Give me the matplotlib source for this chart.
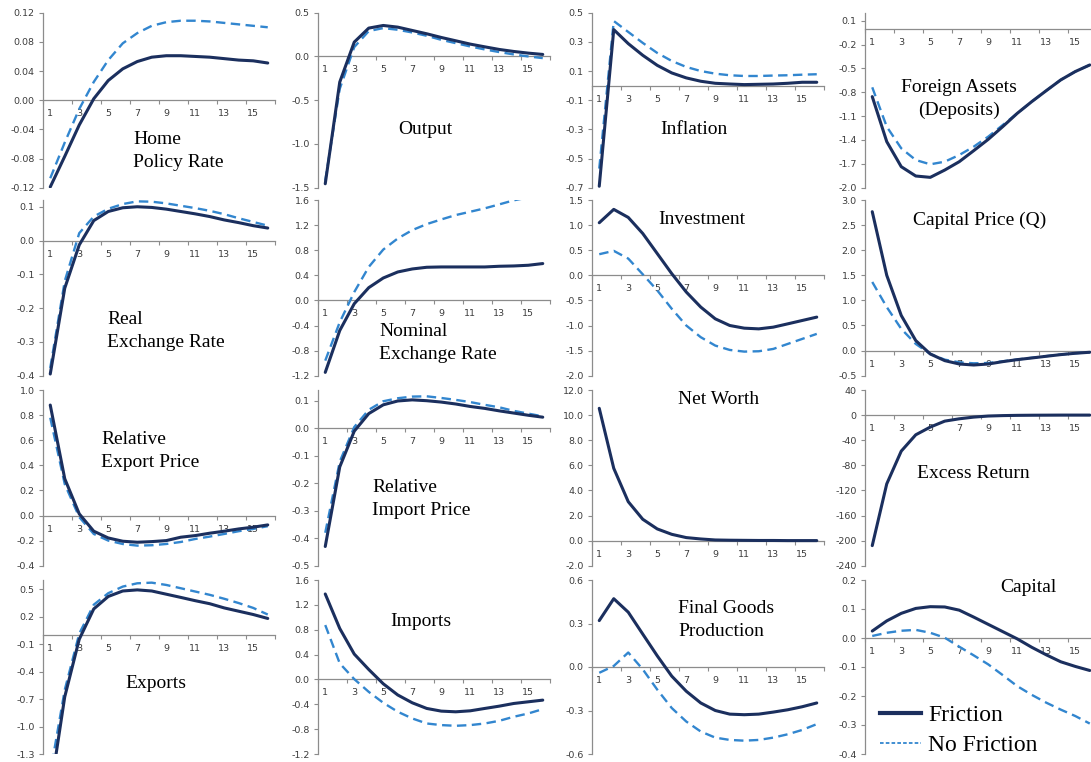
import matplotlib
matplotlib.use("Agg")
import matplotlib.pyplot as plt
from matplotlib.lines import Line2D
from matplotlib.ticker import FixedLocator, FormatStrFormatter

# ---------------------------------------------------------------- data
horizon = list(range(1, 17))
horizon_labels = [str(h) for h in range(1, 17, 2)]

policy_rate_fric = [-0.119, -0.077, -0.034, 0.002, 0.027, 0.043, 0.053, 0.059,
                    0.061, 0.061, 0.060, 0.059, 0.057, 0.055, 0.054, 0.051]
policy_rate_nofric = [-0.107, -0.058, -0.012, 0.025, 0.055, 0.078, 0.092, 0.102,
                      0.107, 0.109, 0.109, 0.108, 0.106, 0.104, 0.102, 0.100]

real_exch_fric = [-0.395, -0.141, -0.013, 0.059, 0.086, 0.097, 0.100, 0.098,
                  0.093, 0.086, 0.079, 0.071, 0.061, 0.053, 0.044, 0.037]
real_exch_nofric = [-0.377, -0.120, 0.022, 0.071, 0.094, 0.108, 0.116, 0.115,
                    0.110, 0.103, 0.096, 0.088, 0.078, 0.066, 0.055, 0.044]

export_price_fric = [0.880, 0.293, 0.013, -0.125, -0.179, -0.205, -0.213, -0.208,
                     -0.200, -0.173, -0.160, -0.141, -0.125, -0.107, -0.093, -0.075]
export_price_nofric = [0.779, 0.250, -0.013, -0.147, -0.200, -0.227, -0.240, -0.237,
                       -0.227, -0.211, -0.187, -0.168, -0.147, -0.125, -0.107, -0.085]

exports_fric = [-1.72, -0.675, -0.047, 0.284, 0.420, 0.480, 0.492, 0.480,
                0.445, 0.410, 0.374, 0.341, 0.295, 0.259, 0.223, 0.180]
exports_nofric = [-1.51, -0.600, 0.014, 0.330, 0.456, 0.528, 0.564, 0.571,
                  0.546, 0.510, 0.474, 0.438, 0.395, 0.348, 0.295, 0.223]

output_fric = [-1.455, -0.293, 0.164, 0.324, 0.354, 0.335, 0.297, 0.259,
               0.217, 0.179, 0.141, 0.110, 0.080, 0.057, 0.038, 0.023]
output_nofric = [-1.420, -0.370, 0.107, 0.290, 0.324, 0.305, 0.274, 0.236,
                 0.190, 0.152, 0.114, 0.080, 0.050, 0.023, 0.000, -0.019]

nominal_exch_fric = [-1.147, -0.480, -0.053, 0.203, 0.357, 0.453, 0.501, 0.528,
                     0.533, 0.533, 0.533, 0.533, 0.544, 0.549, 0.560, 0.587]
nominal_exch_nofric = [-0.960, -0.347, 0.133, 0.533, 0.810, 0.987, 1.120, 1.216,
                       1.290, 1.360, 1.413, 1.467, 1.530, 1.595, 1.640, 1.680]

import_price_fric = [-0.430, -0.140, -0.010, 0.054, 0.086, 0.100, 0.104, 0.101,
                     0.096, 0.089, 0.080, 0.073, 0.064, 0.056, 0.048, 0.041]
import_price_nofric = [-0.380, -0.121, 0.005, 0.068, 0.099, 0.110, 0.116, 0.117,
                       0.111, 0.104, 0.096, 0.086, 0.077, 0.064, 0.054, 0.044]

imports_fric = [1.375, 0.820, 0.408, 0.160, -0.070, -0.250, -0.376, -0.467,
                -0.510, -0.521, -0.505, -0.467, -0.430, -0.387, -0.360, -0.333]
imports_nofric = [0.875, 0.258, 0.005, -0.200, -0.376, -0.520, -0.628, -0.709,
                  -0.735, -0.746, -0.735, -0.709, -0.666, -0.601, -0.548, -0.478]

inflation_fric = [-0.690, 0.384, 0.288, 0.208, 0.139, 0.087, 0.053, 0.030,
                  0.016, 0.011, 0.007, 0.009, 0.011, 0.016, 0.023, 0.023]
inflation_nofric = [-0.569, 0.443, 0.368, 0.293, 0.224, 0.169, 0.128, 0.100,
                    0.082, 0.071, 0.066, 0.066, 0.069, 0.071, 0.075, 0.078]

investment_fric = [1.047, 1.313, 1.153, 0.833, 0.433, 0.033, -0.333, -0.633,
                   -0.867, -1.000, -1.053, -1.067, -1.033, -0.967, -0.900, -0.833]
investment_nofric = [0.420, 0.487, 0.333, 0.020, -0.300, -0.667, -1.000, -1.233,
                     -1.400, -1.487, -1.520, -1.513, -1.467, -1.367, -1.267, -1.167]

net_worth_fric = [10.54, 5.76, 3.10, 1.70, 0.93, 0.50, 0.24, 0.13,
                  0.05, 0.03, 0.02, 0.01, 0.01, 0.00, 0.00, 0.00]

final_goods_fric = [0.320, 0.471, 0.378, 0.227, 0.077, -0.063, -0.167, -0.248,
                    -0.300, -0.325, -0.329, -0.325, -0.311, -0.295, -0.274, -0.248]
final_goods_nofric = [-0.040, 0.007, 0.100, -0.016, -0.156, -0.283, -0.376, -0.445,
                      -0.487, -0.503, -0.508, -0.503, -0.487, -0.464, -0.434, -0.394]

foreign_assets_fric = [-0.855, -1.421, -1.736, -1.853, -1.870, -1.778, -1.673, -1.534,
                       -1.392, -1.232, -1.065, -0.918, -0.780, -0.645, -0.540, -0.457]
foreign_assets_nofric = [-0.738, -1.233, -1.505, -1.652, -1.706, -1.673, -1.589, -1.484,
                         -1.358, -1.212, -1.065, -0.918, -0.780, -0.645, -0.540, -0.457]

capital_price_fric = [2.767, 1.500, 0.700, 0.200, -0.067, -0.200, -0.267, -0.287,
                      -0.267, -0.220, -0.180, -0.147, -0.113, -0.080, -0.053, -0.033]
capital_price_nofric = [1.367, 0.867, 0.433, 0.133, -0.067, -0.180, -0.233, -0.253,
                        -0.247, -0.213, -0.177, -0.143, -0.110, -0.078, -0.052, -0.032]

excess_return_fric = [-208.0, -109.6, -57.4, -31.4, -19.1, -9.6, -5.9, -3.2,
                      -1.5, -0.8, -0.4, -0.2, -0.1, 0.0, 0.0, 0.0]

capital_fric = [0.024, 0.059, 0.085, 0.102, 0.108, 0.107, 0.096, 0.072,
                0.047, 0.022, -0.003, -0.032, -0.058, -0.082, -0.098, -0.112]
capital_nofric = [0.007, 0.018, 0.025, 0.028, 0.018, 0.001, -0.030, -0.060,
                  -0.091, -0.128, -0.166, -0.196, -0.223, -0.247, -0.269, -0.295]

# y-axis ticks of each panel
policy_rate_ticks = [-0.12, -0.08, -0.04, 0.00, 0.04, 0.08, 0.12]
real_exch_ticks = [-0.4, -0.3, -0.2, -0.1, 0.0, 0.1]
export_price_ticks = [-0.4, -0.2, 0.0, 0.2, 0.4, 0.6, 0.8, 1.0]
exports_ticks = [-1.3, -1.0, -0.7, -0.4, -0.1, 0.2, 0.5]
output_ticks = [-1.5, -1.0, -0.5, 0.0, 0.5]
nominal_exch_ticks = [-1.2, -0.8, -0.4, 0.0, 0.4, 0.8, 1.2, 1.6]
import_price_ticks = [-0.5, -0.4, -0.3, -0.2, -0.1, 0.0, 0.1]
imports_ticks = [-1.2, -0.8, -0.4, 0.0, 0.4, 0.8, 1.2, 1.6]
inflation_ticks = [-0.7, -0.5, -0.3, -0.1, 0.1, 0.3, 0.5]
investment_ticks = [-2.0, -1.5, -1.0, -0.5, 0.0, 0.5, 1.0, 1.5]
net_worth_ticks = [-2.0, 0.0, 2.0, 4.0, 6.0, 8.0, 10.0, 12.0]
final_goods_ticks = [-0.6, -0.3, 0.0, 0.3, 0.6]
foreign_assets_ticks = [-2.0, -1.7, -1.4, -1.1, -0.8, -0.5, -0.2, 0.1]
capital_price_ticks = [-0.5, 0.0, 0.5, 1.0, 1.5, 2.0, 2.5, 3.0]
excess_return_ticks = [-240, -200, -160, -120, -80, -40, 0, 40]
capital_ticks = [-0.4, -0.3, -0.2, -0.1, 0.0, 0.1, 0.2]

legend_labels = ["Friction", "No Friction"]

# ---------------------------------------------------------------- style
W, H = 1091, 762
FRIC_COLOR = "#1b2f5e"
NOFRIC_COLOR = "#3286cf"
AXIS_COLOR = "#8c8c8c"
TICK_TEXT = "#3c3c3c"
SERIF = "Liberation Serif"

col_left = [43, 318, 592, 865]
row_top = [12.7, 200, 390, 580]
row_bottom = [187.7, 375.7, 565.7, 754]
panel_w = 232

# (row, col, title, title x, title y, align, friction, no friction, ylim, yticks, fmt)
panels = [
    (0, 0, "Home\nPolicy Rate", 133, 151, "left", policy_rate_fric, policy_rate_nofric,
     (-0.12, 0.12), policy_rate_ticks, "%.2f"),
    (1, 0, "Real\nExchange Rate", 107, 331, "left", real_exch_fric, real_exch_nofric,
     (-0.4, 0.12), real_exch_ticks, "%.1f"),
    (2, 0, "Relative\nExport Price", 101, 451, "left", export_price_fric, export_price_nofric,
     (-0.4, 1.0), export_price_ticks, "%.1f"),
    (3, 0, "Exports", 156, 684, "center", exports_fric, exports_nofric,
     (-1.3, 0.6), exports_ticks, "%.1f"),
    (0, 1, "Output", 425, 130, "center", output_fric, output_nofric,
     (-1.5, 0.5), output_ticks, "%.1f"),
    (1, 1, "Nominal\nExchange Rate", 379, 343, "left", nominal_exch_fric, nominal_exch_nofric,
     (-1.2, 1.6), nominal_exch_ticks, "%.1f"),
    (2, 1, "Relative\nImport Price", 372, 499, "left", import_price_fric, import_price_nofric,
     (-0.5, 0.14), import_price_ticks, "%.1f"),
    (3, 1, "Imports", 421, 621, "center", imports_fric, imports_nofric,
     (-1.2, 1.6), imports_ticks, "%.1f"),
    (0, 2, "Inflation", 694, 129, "center", inflation_fric, inflation_nofric,
     (-0.7, 0.5), inflation_ticks, "%.1f"),
    (1, 2, "Investment", 702, 219, "center", investment_fric, investment_nofric,
     (-2.0, 1.5), investment_ticks, "%.1f"),
    (2, 2, "Net Worth", 719, 400, "center", net_worth_fric, None,
     (-2.0, 12.0), net_worth_ticks, "%.1f"),
    (3, 2, "Final Goods\nProduction", 678, 620, "left", final_goods_fric, final_goods_nofric,
     (-0.6, 0.6), final_goods_ticks, "%.1f"),
    (0, 3, "Foreign Assets\n(Deposits)", 959, 99, "center", foreign_assets_fric, foreign_assets_nofric,
     (-2.0, 0.2), foreign_assets_ticks, "%.1f"),
    (1, 3, "Capital Price (Q)", 980, 220, "center", capital_price_fric, capital_price_nofric,
     (-0.5, 3.0), capital_price_ticks, "%.1f"),
    (2, 3, "Excess Return", 973, 474, "center", excess_return_fric, None,
     (-240, 40), excess_return_ticks, "%d"),
    (3, 3, "Capital", 1028, 587, "center", capital_fric, capital_nofric,
     (-0.4, 0.2), capital_ticks, "%.1f"),
]

fig = plt.figure(figsize=(W / 100, H / 100), dpi=100)
fig.patch.set_facecolor("white")

for (r, c, title, tx, ty, align, fric, nofric, ylim, yticks, fmt) in panels:
    left = col_left[c] / W
    bottom = 1 - row_bottom[r] / H
    height = (row_bottom[r] - row_top[r]) / H
    ax = fig.add_axes([left, bottom, panel_w / W, height])
    ax.set_facecolor("none")

    if nofric is not None:
        ax.plot(horizon, nofric, color=NOFRIC_COLOR, lw=1.7, dashes=(4.0, 2.3),
                zorder=3, solid_capstyle="butt")
    ax.plot(horizon, fric, color=FRIC_COLOR, lw=2.2, zorder=4,
            solid_joinstyle="round", solid_capstyle="round")

    ax.set_xlim(0.5, 16.5)
    ax.set_ylim(*ylim)

    for side in ("top", "right"):
        ax.spines[side].set_visible(False)
    ax.spines["bottom"].set_position(("data", 0))
    for side in ("left", "bottom"):
        ax.spines[side].set_color(AXIS_COLOR)
        ax.spines[side].set_linewidth(0.9)

    ax.xaxis.set_major_locator(FixedLocator(list(range(1, 17, 2))))
    ax.set_xticklabels(horizon_labels)
    ax.xaxis.set_minor_locator(FixedLocator([0.5 + 2 * k for k in range(9)]))
    ax.tick_params(axis="x", which="major", length=0, pad=6.5,
                   labelsize=6.8, labelcolor=TICK_TEXT)
    ax.tick_params(axis="x", which="minor", length=3, width=0.8,
                   direction="out", color=AXIS_COLOR)

    ax.yaxis.set_major_locator(FixedLocator(yticks))
    ax.yaxis.set_major_formatter(FormatStrFormatter(fmt))
    ax.tick_params(axis="y", length=3, width=0.8, direction="out",
                   color=AXIS_COLOR, pad=3, labelsize=6.8, labelcolor=TICK_TEXT)

    fig.text(tx / W, 1 - ty / H, title, ha=align, va="center",
             multialignment=align, family=SERIF, fontsize=14,
             color="black", linespacing=1.45)

handles = [
    Line2D([], [], color=FRIC_COLOR, lw=3.0),
    Line2D([], [], color=NOFRIC_COLOR, lw=1.3, dashes=(2.0, 1.2)),
]
fig.legend(handles, legend_labels, loc="lower left",
           bbox_to_anchor=(880 / W, 1 - 756 / H), frameon=False,
           prop={"family": SERIF, "size": 17}, handlelength=1.75,
           handletextpad=0.3, labelspacing=0.35, borderpad=0,
           borderaxespad=0)

fig.savefig("out.png", dpi=100, facecolor="white")
